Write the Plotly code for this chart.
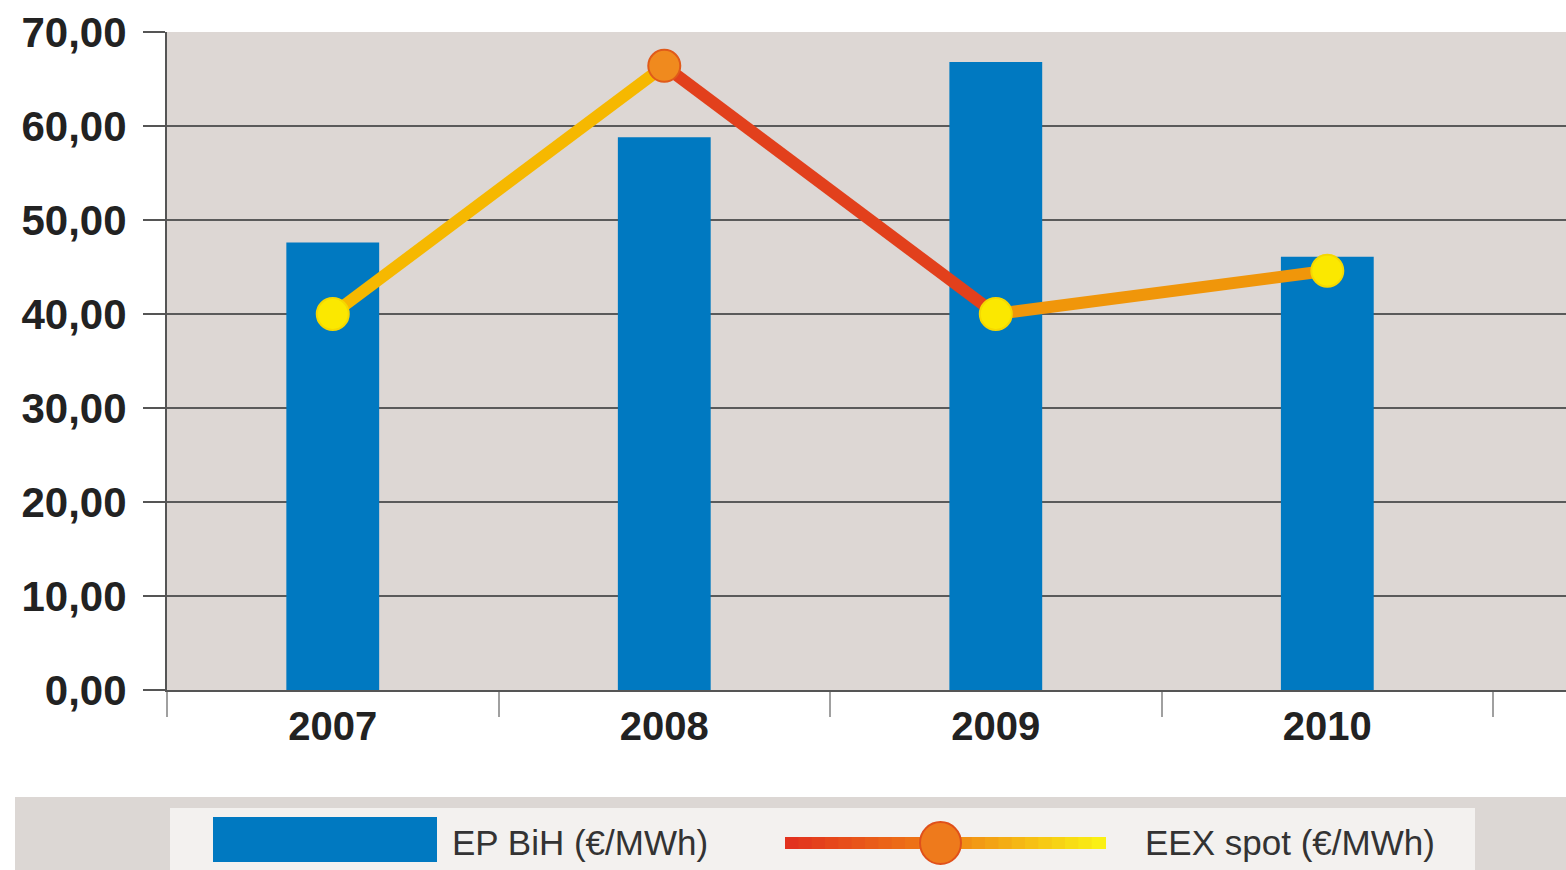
import plotly.graph_objects as go

years = ["2007", "2008", "2009", "2010"]
ep_bih = [47.6, 58.8, 66.8, 46.1]
eex_spot = [40.0, 66.4, 40.0, 44.6]
y_ticks = [0, 10, 20, 30, 40, 50, 60, 70]

bar_color = "#0079c1"
seg_colors = ["#f6b800", "#e2401c", "#f0960a"]
marker_colors = ["#fbe800", "#f08a1e", "#fbe800", "#fbe800"]
marker_lines = ["#f5d800", "#e05a1a", "#f5d800", "#f5d800"]

W, H = 1566, 870
L, R, T, B = 167, 1566, 32, 690  # target pixel positions in the window


def px(x):
    return (x - L) / (R - L)


def py(y):
    return (B - y) / (B - T)


fig = go.Figure()
fig.add_trace(go.Bar(x=years, y=ep_bih, marker=dict(color=bar_color, line=dict(width=0)),
                     width=0.28, name="EP BiH (€/MWh)", showlegend=False))

for i in range(len(years) - 1):
    fig.add_trace(go.Scatter(x=years[i:i + 2], y=eex_spot[i:i + 2], mode="lines",
                             line=dict(color=seg_colors[i], width=12),
                             showlegend=False, hoverinfo="skip"))

fig.add_trace(go.Scatter(x=years, y=eex_spot, mode="markers", name="EEX spot (€/MWh)",
                         marker=dict(size=32, color=marker_colors,
                                     line=dict(color=marker_lines, width=2)),
                         showlegend=False))

shapes = []
shapes.append(dict(type="rect", xref="paper", yref="paper", x0=px(15), x1=px(1570),
                   y0=py(875), y1=py(797), fillcolor="#dcd7d4", line=dict(width=0), layer="below"))
shapes.append(dict(type="rect", xref="paper", yref="paper", x0=px(170), x1=px(1475),
                   y0=py(875), y1=py(808), fillcolor="#f3f1ef", line=dict(width=0), layer="below"))
shapes.append(dict(type="rect", xref="paper", yref="paper", x0=px(213), x1=px(437),
                   y0=py(862), y1=py(817), fillcolor=bar_color, line=dict(width=0)))


def lerp(c1, c2, t):
    return "rgb(%d,%d,%d)" % tuple(round(a + (b - a) * t) for a, b in zip(c1, c2))


red, orange, yellow = (226, 50, 30), (240, 130, 20), (250, 240, 20)
n = 24
x_start, x_end = 785, 1105
for k in range(n):
    t = k / (n - 1)
    c = lerp(red, orange, t * 2) if t < 0.5 else lerp(orange, yellow, (t - 0.5) * 2)
    xa = x_start + (x_end - x_start) * k / n
    xb = x_start + (x_end - x_start) * (k + 1) / n
    shapes.append(dict(type="line", xref="paper", yref="paper", x0=px(xa), x1=px(xb + 1),
                       y0=py(843), y1=py(843), line=dict(color=c, width=12)))
shapes.append(dict(type="circle", xref="paper", yref="paper", x0=px(920), x1=px(961),
                   y0=py(864), y1=py(822), fillcolor="#ee7a1c", line=dict(color="#e0501a", width=2)))

legend_font = dict(family="Liberation Sans, Arial", size=35, color="#333333")
annotations = [
    dict(text="EP BiH (€/MWh)", xref="paper", yref="paper", x=px(450), y=py(842),
         xanchor="left", yanchor="middle", showarrow=False, font=legend_font),
    dict(text="EEX spot (€/MWh)", xref="paper", yref="paper", x=px(1143), y=py(842),
         xanchor="left", yanchor="middle", showarrow=False, font=legend_font),
]

fig.update_layout(
    width=W, height=H,
    margin=dict(l=L, r=W - R, t=T, b=H - B, pad=0),
    paper_bgcolor="white",
    plot_bgcolor="#ddd7d4",
    separators=",.",
    shapes=shapes,
    annotations=annotations,
    showlegend=False,
    font=dict(family="Liberation Sans, Arial", color="#222222"),
)
fig.update_xaxes(
    type="category", range=[-0.5, 3.72], tickson="boundaries",
    ticks="outside", ticklen=25, tickwidth=2, tickcolor="#a0a0a0",
    showline=True, linecolor="#555555", linewidth=2,
    showgrid=False,
    tickfont=dict(family="Liberation Sans, Arial", size=40, color="#222222", weight="bold"),
)
fig.update_yaxes(
    range=[0, 70], tickvals=y_ticks, tickformat=".2f",
    ticks="outside", ticklen=22, tickwidth=2, tickcolor="#555555",
    showline=True, linecolor="#555555", linewidth=2,
    showgrid=True, gridcolor="#5a5a5a", gridwidth=2,
    zeroline=False, ticklabelstandoff=8,
    tickfont=dict(family="Liberation Sans, Arial", size=42, color="#222222", weight="bold"),
)

fig.write_html(
    "out.html",
    config={"displayModeBar": False},
    post_script="document.body.style.margin='0';document.body.style.overflow='hidden';",
)
